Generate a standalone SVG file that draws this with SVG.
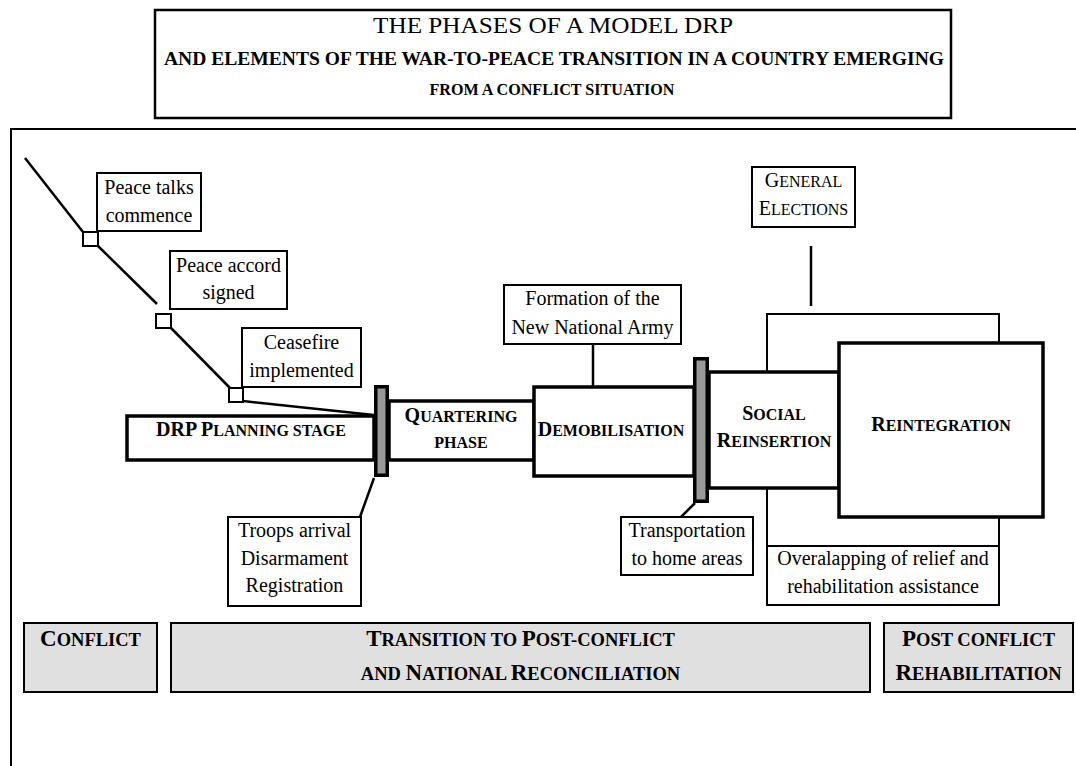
<svg xmlns="http://www.w3.org/2000/svg" width="1076" height="766" viewBox="0 0 1076 766">
<style>
.t{font-family:"Liberation Serif","Times New Roman",serif;fill:#000;text-anchor:middle}
.n{font-size:20px}
.b{font-weight:bold;font-size:20px}
.s{font-size:16px}
.B{font-weight:bold;font-size:23px}
.S{font-size:18.5px}
.box{fill:#fff;stroke:#000;stroke-width:2}
.th{fill:#fff;stroke:#000;stroke-width:3.5}
.bar{fill:#999;stroke:#000;stroke-width:3.5}
.band{fill:#e0e0e0;stroke:#000;stroke-width:2}
.ln{stroke:#000;fill:none;stroke-width:2.5}
.sq{fill:#fff;stroke:#000;stroke-width:2}
</style>
<rect width="1076" height="766" fill="#fff"/>

<g id="title">
<rect x="155" y="10" width="796" height="108" fill="#fff" stroke="#000" stroke-width="2.5"/>
<text class="t" x="553" y="33" font-size="24" textLength="360" lengthAdjust="spacingAndGlyphs">THE PHASES OF A MODEL DRP</text>
<text class="t" x="554" y="65" font-size="18" font-weight="bold" textLength="780" lengthAdjust="spacingAndGlyphs">AND ELEMENTS OF THE WAR-TO-PEACE TRANSITION IN A COUNTRY EMERGING</text>
<text class="t" x="552" y="95" font-size="17" font-weight="bold" textLength="245" lengthAdjust="spacingAndGlyphs">FROM A CONFLICT SITUATION</text>
</g>

<g id="frame">
<path d="M11,766 V129 H1076" fill="none" stroke="#000" stroke-width="2"/>
</g>

<g id="back-box">
<rect x="767" y="314" width="232" height="291" class="box"/>
<line x1="767" y1="546" x2="999" y2="546" stroke="#000" stroke-width="2"/>
<text class="t n" x="883" y="565">Overalapping of relief and</text>
<text class="t n" x="883" y="593">rehabilitation assistance</text>
</g>

<g id="connectors">
<path class="ln" d="M25,158 L83,232"/>
<path class="ln" d="M98,246 L157,304"/>
<path class="ln" d="M171,328 L230,388"/>
<path class="ln" stroke-width="2" d="M243,401 L374,415"/>
<path class="ln" stroke-width="1.5" d="M374,478 L360,517"/>
<path class="ln" stroke-width="1.5" d="M695,503 L681,517"/>
<path class="ln" stroke-width="3" d="M593,344 V387"/>
<path class="ln" stroke-width="3" d="M811,246 V306"/>
<rect class="sq" x="83" y="232" width="15" height="14"/>
<rect class="sq" x="156" y="314" width="15" height="14"/>
<rect class="sq" x="229" y="388" width="14" height="14"/>
</g>

<g id="peace-talks">
<rect class="box" x="97" y="173" width="104" height="58"/>
<text class="t n" x="149" y="194">Peace talks</text>
<text class="t n" x="149" y="222">commence</text>
</g>
<g id="peace-accord">
<rect class="box" x="170" y="251" width="117" height="58"/>
<text class="t n" x="228.5" y="272">Peace accord</text>
<text class="t n" x="228.5" y="299">signed</text>
</g>
<g id="ceasefire">
<rect class="box" x="242" y="328" width="119" height="59"/>
<text class="t n" x="301.5" y="349">Ceasefire</text>
<text class="t n" x="301.5" y="377">implemented</text>
</g>

<g id="planning">
<rect class="th" x="127" y="416" width="247" height="44"/>
<text class="t b" x="251" y="436">DRP P<tspan class="s">LANNING STAGE</tspan></text>
</g>
<g id="quartering">
<rect class="th" x="389" y="401" width="145" height="59" stroke-width="3"/>
<text class="t b" x="461" y="422">Q<tspan class="s">UARTERING</tspan></text>
<text class="t b s" x="461" y="448">PHASE</text>
</g>
<g id="formation">
<rect class="box" x="504" y="285" width="177" height="59"/>
<text class="t n" x="592.5" y="305">Formation of the</text>
<text class="t n" x="592.5" y="334">New National Army</text>
</g>
<g id="demobilisation">
<rect class="th" x="534" y="387" width="160" height="89" stroke-width="3"/>
<text class="t b" x="611" y="436">D<tspan class="s">EMOBILISATION</tspan></text>
</g>
<g id="social">
<rect class="th" x="709" y="372" width="130" height="116"/>
<text class="t b" x="774" y="420">S<tspan class="s">OCIAL</tspan></text>
<text class="t b" x="774" y="447">R<tspan class="s">EINSERTION</tspan></text>
</g>
<g id="reintegration">
<rect class="th" x="839" y="343" width="204" height="174" stroke-width="4"/>
<text class="t b" x="941" y="431">R<tspan class="s">EINTEGRATION</tspan></text>
</g>
<g id="general-elections">
<rect class="box" x="752" y="167" width="103" height="60"/>
<text class="t n" x="803.5" y="187">G<tspan class="s">ENERAL</tspan></text>
<text class="t n" x="803.5" y="215">E<tspan class="s">LECTIONS</tspan></text>
</g>

<g id="bar-1"><rect class="bar" x="375.75" y="386.75" width="11.5" height="88.5"/></g>
<g id="bar-2"><rect class="bar" x="694.75" y="358.75" width="12.5" height="142.5"/></g>

<g id="troops">
<rect class="box" x="228" y="517" width="133" height="89"/>
<text class="t n" x="294.5" y="537">Troops arrival</text>
<text class="t n" x="294.5" y="565">Disarmament</text>
<text class="t n" x="294.5" y="592">Registration</text>
</g>
<g id="transportation">
<rect class="box" x="621" y="517" width="132" height="58"/>
<text class="t n" x="687" y="537">Transportation</text>
<text class="t n" x="687" y="565">to home areas</text>
</g>

<g id="conflict">
<rect class="band" x="24" y="623" width="133" height="69"/>
<text class="t B" x="90.5" y="646">C<tspan class="S">ONFLICT</tspan></text>
</g>
<g id="transition">
<rect class="band" x="171" y="623" width="699" height="69"/>
<text class="t B" x="520.5" y="646">T<tspan class="S">RANSITION TO </tspan>P<tspan class="S">OST-CONFLICT</tspan></text>
<text class="t B" x="520.5" y="680"><tspan class="S">AND </tspan>N<tspan class="S">ATIONAL </tspan>R<tspan class="S">ECONCILIATION</tspan></text>
</g>
<g id="post-conflict">
<rect class="band" x="884" y="623" width="189" height="69"/>
<text class="t B" x="978.5" y="646">P<tspan class="S">OST CONFLICT</tspan></text>
<text class="t B" x="978.5" y="680">R<tspan class="S">EHABILITATION</tspan></text>
</g>
</svg>
